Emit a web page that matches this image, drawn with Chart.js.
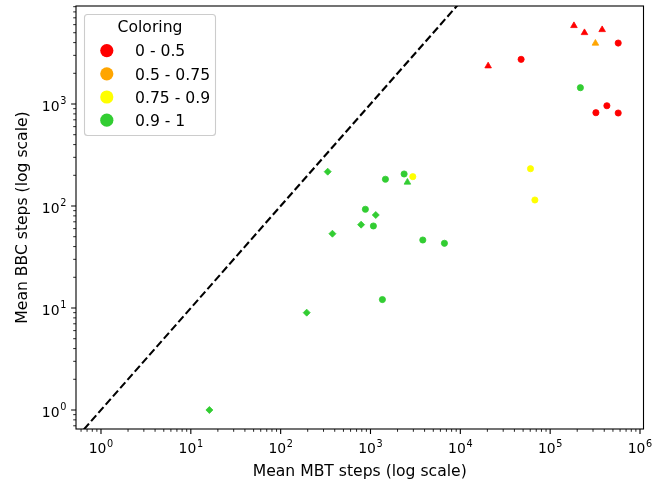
<!DOCTYPE html>
<html>
<head>
<meta charset="utf-8">
<title>Mean BBC steps vs mean MBT steps</title>
<script src="https://cdn.jsdelivr.net/npm/chart.js@4/dist/chart.umd.min.js"></script>
<style>
  html, body { margin: 0; padding: 0; background: #ffffff; }
  #wrap { width: 664px; height: 484px; }
</style>
</head>
<body>
<div id="wrap"><canvas id="chart" width="664" height="484"></canvas></div>
<script>
// ---- Data -------------------------------------------------------------
const coloringRanges = ['0 - 0.5', '0.5 - 0.75', '0.75 - 0.9', '0.9 - 1'];

// 0 - 0.5
const lowCircleMBT   = [5.72e5, 4.75e4, 4.28e5, 3.23e5, 5.72e5];
const lowCircleBBC   = [3960, 2740, 962, 822, 816];
const lowTriangleMBT = [1.84e5, 2.41e5, 3.79e5, 2.04e4];
const lowTriangleBBC = [5860, 5000, 5350, 2360];

// 0.5 - 0.75
const midTriangleMBT = [3.19e5];
const midTriangleBBC = [3940];

// 0.75 - 0.9
const highCircleMBT = [2958, 6.04e4, 6.76e4];
const highCircleBBC = [194, 232, 114.5];

// 0.9 - 1
const topCircleMBT   = [2.17e5, 1466, 2367, 877, 1077, 3823, 6653, 1357];
const topCircleBBC   = [1445, 183, 206, 92.9, 63.7, 46.4, 43.1, 12.1];
const topTriangleMBT = [2576];
const topTriangleBBC = [171];
const topDiamondMBT  = [334, 1145, 786, 377, 195, 16.1];
const topDiamondBBC  = [217, 81.6, 65.6, 53.5, 9.0, 1.0];

// y = x reference line
const identityLine = [0.1, 1e5];

// Axis limits and decade tick exponents
const xLimits = [0.527, 1.094e6];
const yLimits = [0.651, 9140];
const xTickExponents = [0, 1, 2, 3, 4, 5, 6];
const yTickExponents = [0, 1, 2, 3];

// ---- Styles -----------------------------------------------------------
const rangeColors = ['#ff0000', '#ffa500', '#ffff00', '#32cd32'];
const FONT = '"DejaVu Sans", "Liberation Sans", sans-serif';
const TICK_PX = 13.9;
const SUP_PX = 9.7;
const LABEL_PX = 15.6;

function toPoints(xs, ys) {
  return xs.map((v, i) => ({ x: v, y: ys[i] }));
}

function scatterSet(label, xs, ys, colorIdx, shape, radius) {
  return {
    type: 'scatter',
    label: label,
    data: toPoints(xs, ys),
    pointStyle: shape,
    pointRadius: radius,
    pointHoverRadius: radius,
    pointBackgroundColor: rangeColors[colorIdx],
    pointBorderColor: rangeColors[colorIdx],
    pointBorderWidth: 0.8,
    showLine: false,
    order: 1
  };
}

const datasets = [
  {
    type: 'line',
    label: 'y = x',
    data: toPoints(identityLine, identityLine),
    borderColor: '#000000',
    borderWidth: 2.1,
    borderDash: [7.7, 3.3],
    pointRadius: 0,
    fill: false,
    clip: 0,
    order: 2
  },
  scatterSet(coloringRanges[0], lowCircleMBT, lowCircleBBC, 0, 'circle', 3.1),
  scatterSet(coloringRanges[0], lowTriangleMBT, lowTriangleBBC, 0, 'triangle', 3.8),
  scatterSet(coloringRanges[1], midTriangleMBT, midTriangleBBC, 1, 'triangle', 3.8),
  scatterSet(coloringRanges[2], highCircleMBT, highCircleBBC, 2, 'circle', 3.1),
  scatterSet(coloringRanges[3], topCircleMBT, topCircleBBC, 3, 'circle', 3.1),
  scatterSet(coloringRanges[3], topTriangleMBT, topTriangleBBC, 3, 'triangle', 3.8),
  scatterSet(coloringRanges[3], topDiamondMBT, topDiamondBBC, 3, 'rectRot', 3.5)
];

// ---- Axes, tick labels and legend drawn onto the canvas -------------------
function drawPower(ctx, exp, x, baseline, align) {
  ctx.font = TICK_PX + 'px ' + FONT;
  const w1 = ctx.measureText('10').width;
  ctx.font = SUP_PX + 'px ' + FONT;
  const w2 = ctx.measureText(String(exp)).width;
  const total = w1 + 0.6 + w2;
  const left = align === 'center' ? x - total / 2 : x - total;
  ctx.textAlign = 'left';
  ctx.textBaseline = 'alphabetic';
  ctx.font = TICK_PX + 'px ' + FONT;
  ctx.fillText('10', left, baseline);
  ctx.font = SUP_PX + 'px ' + FONT;
  ctx.fillText(String(exp), left + w1 + 0.6, baseline - 6.4);
}

function minorValues(lo, hi) {
  const out = [];
  for (let d = Math.floor(Math.log10(lo)) - 1; d <= Math.ceil(Math.log10(hi)); d++) {
    for (let k = 2; k <= 9; k++) {
      const v = k * Math.pow(10, d);
      if (v >= lo && v <= hi) out.push(v);
    }
  }
  return out;
}

const axesPlugin = {
  id: 'logAxes',
  afterDraw(chart) {
    const ctx = chart.ctx;
    const a = chart.chartArea;
    const xs = chart.scales.x;
    const ys = chart.scales.y;
    ctx.save();
    ctx.fillStyle = '#000000';
    ctx.strokeStyle = '#000000';

    // frame
    ctx.lineWidth = 1.1;
    ctx.strokeRect(a.left, a.top, a.right - a.left, a.bottom - a.top);

    // minor ticks
    ctx.lineWidth = 0.85;
    ctx.beginPath();
    minorValues(xLimits[0], xLimits[1]).forEach(v => {
      const px = xs.getPixelForValue(v);
      ctx.moveTo(px, a.bottom);
      ctx.lineTo(px, a.bottom + 2.8);
    });
    minorValues(yLimits[0], yLimits[1]).forEach(v => {
      const py = ys.getPixelForValue(v);
      ctx.moveTo(a.left, py);
      ctx.lineTo(a.left - 2.8, py);
    });
    ctx.stroke();

    // major ticks and labels
    ctx.lineWidth = 1.1;
    ctx.beginPath();
    xTickExponents.forEach(e => {
      const px = xs.getPixelForValue(Math.pow(10, e));
      ctx.moveTo(px, a.bottom);
      ctx.lineTo(px, a.bottom + 4.9);
    });
    yTickExponents.forEach(e => {
      const py = ys.getPixelForValue(Math.pow(10, e));
      ctx.moveTo(a.left, py);
      ctx.lineTo(a.left - 4.9, py);
    });
    ctx.stroke();

    xTickExponents.forEach(e => {
      const px = xs.getPixelForValue(Math.pow(10, e));
      drawPower(ctx, e, px, a.bottom + 24.2, 'center');
    });
    yTickExponents.forEach(e => {
      const py = ys.getPixelForValue(Math.pow(10, e));
      drawPower(ctx, e, a.left - 9.7, py + 6.7, 'right');
    });

    // axis titles
    ctx.font = LABEL_PX + 'px ' + FONT;
    ctx.textAlign = 'center';
    ctx.textBaseline = 'alphabetic';
    ctx.fillText('Mean MBT steps (log scale)', (a.left + a.right) / 2, 475.7);
    ctx.save();
    ctx.translate(26.6, (a.top + a.bottom) / 2);
    ctx.rotate(-Math.PI / 2);
    ctx.fillText('Mean BBC steps (log scale)', 0, 0);
    ctx.restore();

    // legend
    const bx = 84.5, by = 14.5, bw = 131, bh = 121;
    ctx.beginPath();
    ctx.roundRect(bx, by, bw, bh, 3);
    ctx.fillStyle = 'rgba(255,255,255,0.8)';
    ctx.fill();
    ctx.strokeStyle = '#cccccc';
    ctx.lineWidth = 1.1;
    ctx.stroke();

    ctx.fillStyle = '#000000';
    ctx.font = LABEL_PX + 'px ' + FONT;
    ctx.textAlign = 'center';
    ctx.fillText('Coloring', 150, 32.4);

    coloringRanges.forEach((label, i) => {
      const cy = 50.6 + i * 23.2;
      ctx.beginPath();
      ctx.arc(106.8, cy, 6.6, 0, Math.PI * 2);
      ctx.fillStyle = rangeColors[i];
      ctx.fill();
      ctx.fillStyle = '#000000';
      ctx.textAlign = 'left';
      ctx.fillText(label, 135, cy + 5.7);
    });

    ctx.restore();
  }
};

new Chart(document.getElementById('chart'), {
  data: { datasets: datasets },
  options: {
    responsive: false,
    animation: false,
    devicePixelRatio: 1,
    layout: { padding: { left: 76, top: 6, right: 20.5, bottom: 55 } },
    plugins: {
      legend: { display: false },
      tooltip: { enabled: false }
    },
    scales: {
      x: { type: 'logarithmic', min: xLimits[0], max: xLimits[1], display: false },
      y: { type: 'logarithmic', min: yLimits[0], max: yLimits[1], display: false }
    }
  },
  plugins: [axesPlugin]
});
</script>
</body>
</html>
